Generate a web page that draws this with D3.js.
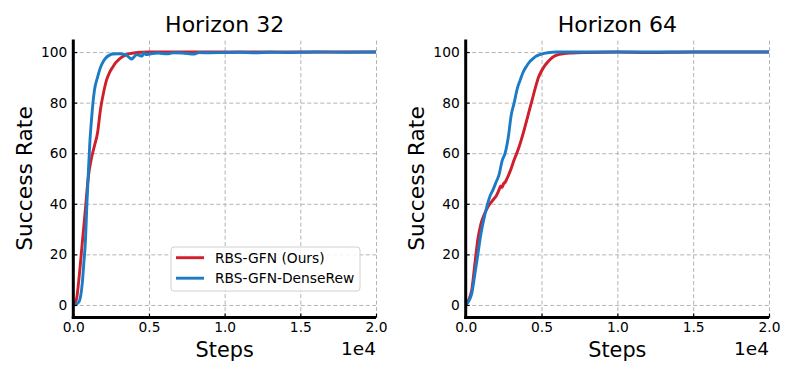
<!DOCTYPE html>
<html><head><meta charset="utf-8">
<script src="https://cdn.jsdelivr.net/npm/d3@7"></script>
<style>body{margin:0;background:#fff}svg{display:block}text{font-family:"DejaVu Sans",sans-serif}</style>
</head><body>
<svg id="c" width="797" height="379"></svg>
<script>
const titles = ["Horizon 32", "Horizon 64"];
const seriesNames = ["RBS-GFN (Ours)", "RBS-GFN-DenseRew"];
const colors = ["#d01f2c", "#1c7bc6"];
const xTicks = [0, 5000, 10000, 15000, 20000];
const xTickLabels = ["0.0", "0.5", "1.0", "1.5", "2.0"];
const yTicks = [0, 20, 40, 60, 80, 100];

// Horizon 32
const h32RedSteps = [0,200,400,600,800,1000,1200,1400,1600,1800,2000,2200,2400,2600,2800,3000,3300,3600,4000,4500,5000,6000,8000,10000,12000,15000,20000];
const h32RedVals  = [0,2,12,25,38,51,58,63,68,77.5,84,89,92,94,95.8,97,98.3,99.2,99.6,99.9,100,100,100,100,100,100,100];
const h32BlueSteps = [0,200,400,500,600,700,800,900,1000,1100,1200,1300,1400,1600,1800,2000,2200,2400,2600,3000,3300,3500,3700,3850,4000,4200,4400,4550,4650,4800,5200,5600,6200,6600,7200,8000,8300,9000,10000,11000,12000,13000,14000,16000,18000,20000];
const h32BlueVals  = [0,0.3,1.5,4,9,17,25,40,53,65,73,80,85,90,94,96.5,98,98.8,99.2,99.3,99.2,98.8,97.8,97.2,98,99,98.6,98.4,99.8,99,99.4,99.6,99.3,99.7,99.6,99.2,99.8,99.7,99.8,99.9,99.7,99.9,99.8,100,99.9,100];

// Horizon 64
const h64RedSteps = [0,200,400,600,800,1000,1200,1400,1600,1800,2000,2200,2300,2400,2500,2600,2800,3000,3200,3400,3600,3800,4000,4200,4400,4600,4800,5000,5200,5400,5700,6000,6500,7000,8000,10000,12000,15000,20000];
const h64RedVals  = [0,2,6,16,26,32,35.5,38,40,41.5,43,45.5,47,46.5,48,48.5,51,54,57.5,60.5,64,68,72.5,77,81.5,86,90,92.5,94.5,96,97.8,98.8,99.4,99.6,99.8,100,99.8,100,100];
const h64RedStd   = [0,0.3,0.5,0.6,0.6,0.6,0.6,0.6,0.7,0.8,0.9,1,1,1,1.1,1.2,1.3,1.4,1.5,1.6,1.7,1.8,1.8,1.8,1.7,1.6,1.5,1.3,1.1,0.9,0.7,0.5,0.4,0.3,0.3,0.3,0.3,0.3,0.3];
const h64BlueSteps = [0,200,400,600,800,1000,1200,1400,1600,1800,2000,2200,2400,2600,2800,3000,3200,3400,3600,3800,4000,4200,4400,4600,4800,5000,5400,6000,8000,12000,20000];
const h64BlueVals  = [0,1.5,4.6,12,20,28,34,39,43,45.5,48.5,51.5,57,60,66,75,80,85.5,89,92.2,94.3,96,97.2,98.2,98.8,99.2,99.7,100,100,100,100];

const panels = [
  {left: 73.3, right: 376, title: titles[0],
   series: [{s: h32RedSteps, v: h32RedVals, c: colors[0]}, {s: h32BlueSteps, v: h32BlueVals, c: colors[1]}],
   legend: true},
  {left: 465.7, right: 769, title: titles[1],
   series: [{s: h64RedSteps, v: h64RedVals, sd: h64RedStd, c: colors[0]}, {s: h64BlueSteps, v: h64BlueVals, c: colors[1]}],
   legend: false}
];
const plotTop = 39.4, plotBottom = 317.6;
const svg = d3.select("#c");

panels.forEach(p => {
  const x = d3.scaleLinear().domain([0, 20000]).range([p.left, p.right]);
  const y = d3.scaleLinear().domain([-5, 105]).range([plotBottom, plotTop]);
  const g = svg.append("g");

  // grid
  const gx = g.append("g").attr("transform", `translate(0,${plotBottom})`)
    .call(d3.axisBottom(x).tickValues(xTicks).tickSize(-(plotBottom - plotTop)).tickFormat(""));
  const gy = g.append("g").attr("transform", `translate(${p.left},0)`)
    .call(d3.axisLeft(y).tickValues(yTicks).tickSize(-(p.right - p.left)).tickFormat(""));
  [gx, gy].forEach(a => {
    a.select(".domain").remove();
    a.selectAll("line").attr("stroke", "#b3b3b3").attr("stroke-width", 1).attr("stroke-dasharray", "4,2.5");
  });

  // series
  const clipId = "clip" + Math.round(p.left);
  svg.append("clipPath").attr("id", clipId).append("rect")
    .attr("x", p.left).attr("y", plotTop).attr("width", p.right - p.left).attr("height", plotBottom - plotTop);
  const plot = g.append("g").attr("clip-path", `url(#${clipId})`);
  p.series.forEach(sr => {
    const pts = sr.s.map((d, i) => ({s: d, v: sr.v[i], sd: sr.sd ? sr.sd[i] : 0}));
    if (sr.sd) {
      plot.append("path").datum(pts)
        .attr("d", d3.area().x(d => x(d.s)).y0(d => y(d.v - d.sd)).y1(d => y(d.v + d.sd)).curve(d3.curveMonotoneX))
        .attr("fill", sr.c).attr("opacity", 0.3);
    }
    plot.append("path").datum(pts)
      .attr("d", d3.line().x(d => x(d.s)).y(d => y(d.v)).curve(d3.curveMonotoneX))
      .attr("fill", "none").attr("stroke", sr.c).attr("stroke-width", 2.9)
      .attr("stroke-linejoin", "round").attr("stroke-linecap", "round");
  });

  // axes
  const ax = g.append("g").attr("transform", `translate(0,${plotBottom})`)
    .call(d3.axisBottom(x).tickValues(xTicks).tickFormat((d, i) => xTickLabels[i]).tickSize(-4).tickPadding(5));
  const ay = g.append("g").attr("transform", `translate(${p.left},0)`)
    .call(d3.axisLeft(y).tickValues(yTicks).tickSize(-4).tickPadding(6));
  [ax, ay].forEach(a => {
    a.select(".domain").remove();
    a.selectAll("line").attr("stroke", "#000").attr("stroke-width", 1.2);
    a.selectAll("text").attr("font-size", 13.8).attr("fill", "#000").attr("font-family", "DejaVu Sans");
  });
  g.append("line").attr("x1", p.left).attr("x2", p.left).attr("y1", plotTop).attr("y2", plotBottom + 1.5)
    .attr("stroke", "#000").attr("stroke-width", 3);
  g.append("line").attr("x1", p.left - 1.5).attr("x2", p.right).attr("y1", plotBottom).attr("y2", plotBottom)
    .attr("stroke", "#000").attr("stroke-width", 3);

  const cx = (p.left + p.right) / 2;
  g.append("text").attr("x", cx).attr("y", 31.5).attr("text-anchor", "middle").attr("font-size", 22).text(p.title);
  g.append("text").attr("x", cx).attr("y", 356.5).attr("text-anchor", "middle").attr("font-size", 20.8).text("Steps");
  g.append("text").attr("x", p.right).attr("y", 355).attr("text-anchor", "end").attr("font-size", 18.5).text("1e4");
  g.append("text").attr("transform", `translate(${p.left - 41.5},${(plotTop + plotBottom) / 2}) rotate(-90)`)
    .attr("text-anchor", "middle").attr("font-size", 21.8).text("Success Rate");

  if (p.legend) {
    const lg = g.append("g");
    lg.append("rect").attr("x", 171).attr("y", 247).attr("width", 189).attr("height", 44).attr("rx", 3)
      .attr("fill", "#fff").attr("fill-opacity", 0.85).attr("stroke", "#d0d0d0").attr("stroke-width", 1);
    seriesNames.forEach((n, i) => {
      const yy = 257.7 + i * 20.5;
      lg.append("line").attr("x1", 176).attr("x2", 204).attr("y1", yy).attr("y2", yy)
        .attr("stroke", colors[i]).attr("stroke-width", 2.9);
      lg.append("text").attr("x", 215).attr("y", yy + 5).attr("font-size", 13.8).text(n);
    });
  }
});
</script>
</body></html>
